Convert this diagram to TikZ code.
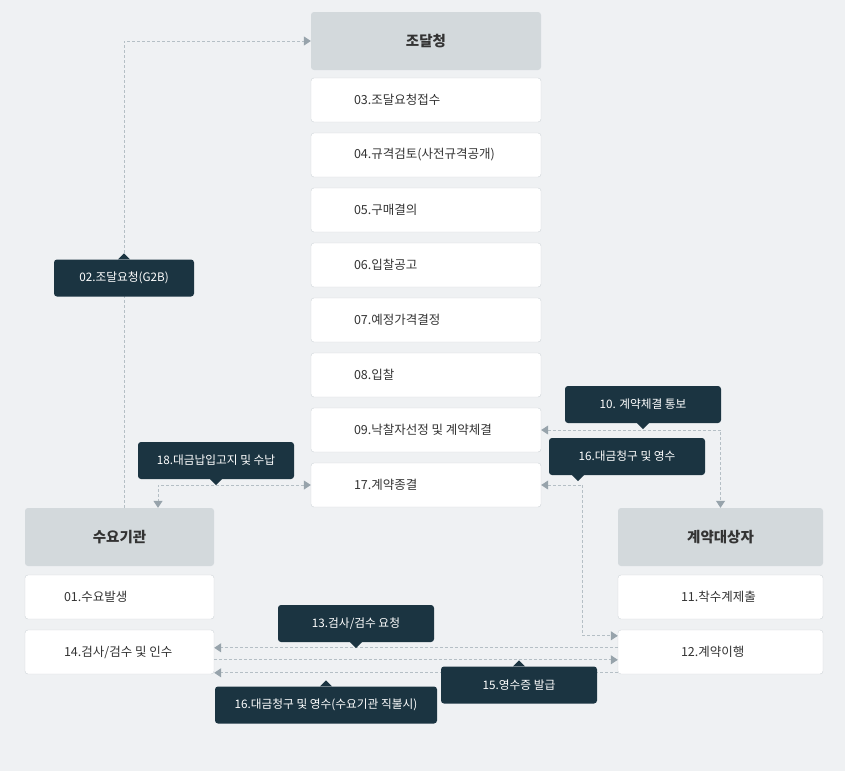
\documentclass[tikz,border=0pt]{standalone}
\usepackage{fontspec}
\setmainfont{Noto Sans CJK KR}
\usetikzlibrary{arrows.meta}

\definecolor{bgpage}{HTML}{EFF1F3}
\definecolor{headfill}{HTML}{D3D9DC}
\definecolor{boxline}{HTML}{D0D5D9}
\definecolor{callfill}{HTML}{1B3441}
\definecolor{linegrey}{HTML}{B5BFC5}
\definecolor{tipgrey}{HTML}{97A3AB}
\definecolor{txtdark}{HTML}{333333}

% box text, left aligned with a fixed indent
\newcommand{\boxtxt}[3]{\makebox[#1][l]{\hspace*{#2}#3}}

\tikzset{
  flowtip/.tip={Triangle[width=9pt,length=7pt,color=tipgrey]},
  flow/.style={draw=linegrey, line width=1pt, dash pattern=on 3pt off 2pt},
  headbox/.style={
    fill=headfill,
    rounded corners=3pt,
    minimum height=58pt,
    font=\fontsize{14.5}{17}\selectfont\bfseries,
    text=txtdark
  },
  stepbox/.style={
    draw=boxline,
    fill=white,
    rounded corners=3pt,
    minimum height=44pt,
    inner xsep=0pt,
    font=\fontsize{12.5}{14}\selectfont,
    text=txtdark
  },
  callbox/.style={
    fill=callfill,
    rounded corners=3pt,
    minimum width=156pt,
    minimum height=37pt,
    font=\fontsize{11.7}{13}\selectfont,
    text=white
  }
}

\begin{document}
\begin{tikzpicture}[x=1pt, y=-1pt]
  \fill[bgpage] (0,0) rectangle (845,771);
  \useasboundingbox (0,0) rectangle (845,771);

  % 조달청
  \node[headbox, minimum width=230pt] (hpps) at (426,41) {조달청};
  \node[stepbox] (s03) at (426,100) {\boxtxt{230pt}{43pt}{03.조달요청접수}};
  \node[stepbox] (s04) at (426,155) {\boxtxt{230pt}{43pt}{04.규격검토(사전규격공개)}};
  \node[stepbox] (s05) at (426,210) {\boxtxt{230pt}{43pt}{05.구매결의}};
  \node[stepbox] (s06) at (426,265) {\boxtxt{230pt}{43pt}{06.입찰공고}};
  \node[stepbox] (s07) at (426,320) {\boxtxt{230pt}{43pt}{07.예정가격결정}};
  \node[stepbox] (s08) at (426,375) {\boxtxt{230pt}{43pt}{08.입찰}};
  \node[stepbox] (s09) at (426,430) {\boxtxt{230pt}{43pt}{09.낙찰자선정 및 계약체결}};
  \node[stepbox] (s17) at (426,485) {\boxtxt{230pt}{43pt}{17.계약종결}};

  % 수요기관
  \node[headbox, minimum width=189pt] (hdem) at (119.5,537) {수요기관};
  \node[stepbox] (s01) at (119.5,597) {\boxtxt{189pt}{39pt}{01.수요발생}};
  \node[stepbox] (s14) at (119.5,652) {\boxtxt{189pt}{39pt}{14.검사/검수 및 인수}};

  % 계약대상자
  \node[headbox, minimum width=205pt] (hcon) at (720.5,537) {계약대상자};
  \node[stepbox] (s11) at (720.5,597) {\boxtxt{205pt}{63pt}{11.착수계제출}};
  \node[stepbox] (s12) at (720.5,652) {\boxtxt{205pt}{63pt}{12.계약이행}};

  % connectors
  \draw[flow, -{flowtip}] ([xshift=4.5pt]hdem.north) |- (hpps.west);
  \draw[flow, {flowtip}-{flowtip}] (s17.west) -| ([xshift=38.5pt]hdem.north);
  \draw[flow, {flowtip}-{flowtip}] (s09.east) -| (hcon.north);
  \draw[flow, {flowtip}-{flowtip}] (s17.east) -| ([xshift=-35pt,yshift=-6pt]s12.north west) -- ([yshift=-6pt]s12.north west);
  \draw[flow, -{flowtip}] ([yshift=-18pt]s12.north west) -- ([yshift=-18pt]s14.north east);
  \draw[flow, -{flowtip}] ([yshift=-30pt]s14.north east) -- ([yshift=-30pt]s12.north west);
  \draw[flow, -{flowtip}] ([yshift=-43pt]s12.north west) -- ([yshift=-43pt]s14.north east);

  % callouts
  \node[callbox, minimum width=140pt] (c02) at (124,278) {02.조달요청(G2B)};
  \node[callbox] (c18) at (216,460.5) {18.대금납입고지 및 수납};
  \node[callbox] (c10) at (643,404.5) {10. 계약체결 통보};
  \node[callbox] (c16a) at (627,456.5) {16.대금청구 및 영수};
  \node[callbox] (c13) at (356,623.5) {13.검사/검수 요청};
  \node[callbox] (c15) at (519,685) {15.영수증 발급};
  \node[callbox, minimum width=222pt] (c16b) at (326,705) {16.대금청구 및 영수(수요기관 직불시)};

  \fill[callfill] ([xshift=-6pt]c02.north) -- ([yshift=6pt]c02.north) -- ([xshift=6pt]c02.north) -- cycle;
  \fill[callfill] ([xshift=-6pt]c18.south) -- ([yshift=-6pt]c18.south) -- ([xshift=6pt]c18.south) -- cycle;
  \fill[callfill] ([xshift=-6pt]c10.south) -- ([yshift=-6pt]c10.south) -- ([xshift=6pt]c10.south) -- cycle;
  \fill[callfill] ([xshift=-55pt]c16a.south) -- ([xshift=-49pt,yshift=-6pt]c16a.south) -- ([xshift=-43pt]c16a.south) -- cycle;
  \fill[callfill] ([xshift=-6pt]c13.south) -- ([yshift=-6pt]c13.south) -- ([xshift=6pt]c13.south) -- cycle;
  \fill[callfill] ([xshift=-6pt]c15.north) -- ([yshift=6pt]c15.north) -- ([xshift=6pt]c15.north) -- cycle;
  \fill[callfill] ([xshift=-6pt]c16b.north) -- ([yshift=6pt]c16b.north) -- ([xshift=6pt]c16b.north) -- cycle;
\end{tikzpicture}
\end{document}
